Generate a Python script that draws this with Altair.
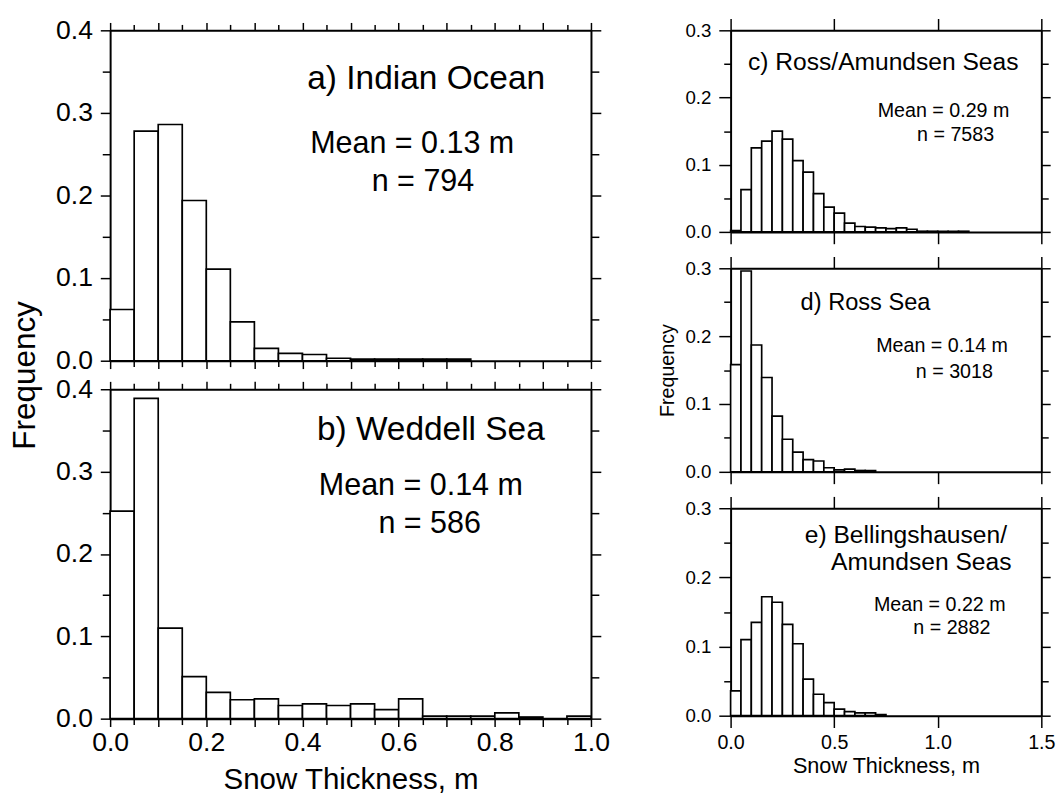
import altair as alt
import pandas as pd

FONT = "Liberation Sans"
BIN_W = 0.05

# Relative frequency per 0.05 m snow-thickness bin, first bin starting at 0 m
indian_ocean = [0.062, 0.278, 0.286, 0.194, 0.111, 0.047, 0.015, 0.009, 0.0075,
                0.003, 0.002, 0.002, 0.002, 0.002, 0.002]
weddell_sea = [0.252, 0.389, 0.110, 0.051, 0.032, 0.023, 0.024, 0.016, 0.018, 0.016,
               0.018, 0.011, 0.024, 0.003, 0.003, 0.003, 0.007, 0.002, 0.0, 0.003]
ross_amundsen = [0.002, 0.063, 0.125, 0.135, 0.150, 0.138, 0.106, 0.089, 0.057, 0.037,
                 0.028, 0.013, 0.008, 0.007, 0.006, 0.005, 0.006, 0.004,
                 0.001, 0.001, 0.001, 0.001, 0.001]
ross_sea = [0.158, 0.296, 0.187, 0.139, 0.082, 0.048, 0.029, 0.018, 0.016, 0.006,
            0.003, 0.004, 0.002, 0.002]
bellingshausen = [0.036, 0.110, 0.135, 0.172, 0.164, 0.132, 0.104, 0.053, 0.031, 0.019,
                  0.0095, 0.006, 0.004, 0.004, 0.0015]

# Panel annotations: (x, y, text, font size) in data coordinates
notes_a = [(0.41, 0.329, "a) Indian Ocean", 34), (0.416, 0.251, "Mean = 0.13 m", 31),
           (0.544, 0.205, "n = 794", 31)]
notes_b = [(0.43, 0.338, "b) Weddell Sea", 34), (0.434, 0.271, "Mean = 0.14 m", 31),
           (0.558, 0.226, "n = 586", 31)]
notes_c = [(0.084, 0.2415, "c) Ross/Amundsen Seas", 25), (0.71, 0.171, "Mean = 0.29 m", 20),
           (0.90, 0.135, "n = 7583", 20)]
notes_d = [(0.338, 0.239, "d) Ross Sea", 24), (0.703, 0.176, "Mean = 0.14 m", 20),
           (0.894, 0.139, "n = 3018", 20)]
notes_e = [(0.358, 0.249, "e) Bellingshausen/", 25), (0.485, 0.211, "Amundsen Seas", 25),
           (0.692, 0.151, "Mean = 0.22 m", 20), (0.882, 0.118, "n = 2882", 20)]

X_TITLE = "Snow Thickness, m"
Y_TITLE = "Frequency"

left_x_ticks = [round(i * 0.05, 2) for i in range(21)]
left_y_ticks = [round(i * 0.05, 2) for i in range(9)]
right_x_ticks = [0.0, 0.5, 1.0, 1.5]
right_y_ticks = [round(i * 0.05, 2) for i in range(7)]

EVEN_TENTH = "round(datum.value * 20) % 2 == 0"
FIFTH = "round(datum.value * 20) % 4 == 0"
TENTH_LABEL = f"{EVEN_TENTH} ? format(datum.value, '.1f') : ''"
FIFTH_LABEL = f"{FIFTH} ? format(datum.value, '.1f') : ''"


def tick_len(test, major, minor):
    return {"condition": {"test": test, "value": major}, "value": minor}


def axis(orient, values, labels=False, label_expr=None, label_size=27, tick_size=8,
         label_pad=3, title=None, title_size=30, title_pad=None, title_y=None, fmt=".1f"):
    kw = dict(orient=orient, values=values, labels=labels, grid=False,
              domainColor="black", domainWidth=2, tickColor="black", tickWidth=1.5,
              tickSize=tick_size, labelFont=FONT, labelFontSize=label_size,
              labelColor="black", labelFlush=False, labelOverlap=False,
              labelPadding=label_pad, format=fmt, title=title)
    if label_expr is not None:
        kw["labelExpr"] = label_expr
    if title is not None:
        kw.update(titleFont=FONT, titleFontSize=title_size, titleFontWeight="normal",
                  titleColor="black")
        if title_pad is not None:
            kw["titlePadding"] = title_pad
        if title_y is not None:
            kw["titleY"] = title_y
    return alt.Axis(**kw)


def panel(values, notes, xdom, ydom, w, h, ax_bottom, ax_left, ax_top, ax_right):
    lo = [round(i * BIN_W, 2) for i in range(len(values))]
    bins = pd.DataFrame({"lo": lo, "hi": [round(v + BIN_W, 2) for v in lo],
                         "f": values, "base": [0.0] * len(values)})
    xs = alt.Scale(domain=xdom, nice=False, zero=False)
    ys = alt.Scale(domain=ydom, nice=False)
    bars = alt.Chart(bins).mark_rect(fill="white", stroke="black", strokeWidth=1.7).encode(
        x=alt.X("lo:Q", scale=xs, axis=ax_bottom),
        x2="hi:Q",
        y=alt.Y("f:Q", scale=ys, axis=ax_left),
        y2="base:Q",
    )
    # invisible copy of the bars that carries the mirrored top/right axes
    mirror = alt.Chart(bins).mark_rect(opacity=0).encode(
        x=alt.X("lo:Q", scale=xs, axis=ax_top),
        x2="hi:Q",
        y=alt.Y("f:Q", scale=ys, axis=ax_right),
        y2="base:Q",
    )
    ndf = pd.DataFrame(notes, columns=["tx", "ty", "label", "fs"])
    text = alt.Chart(ndf).mark_text(align="left", baseline="alphabetic", font=FONT,
                                    color="black").encode(
        x=alt.X("tx:Q", scale=xs, axis=None),
        y=alt.Y("ty:Q", scale=ys, axis=None),
        text="label:N",
        size=alt.Size("fs:Q", scale=None, legend=None),
    )
    return alt.layer(bars, mirror, text).resolve_axis(
        x="independent", y="independent").properties(width=w, height=h)


LW = 489
AH, BH = 336, 335
RW = 316
CH, DH, EH = 205, 207, 211

left_y = lambda **k: axis("left", left_y_ticks, labels=True, label_size=27,
                          label_expr=TENTH_LABEL, label_pad=8,
                          tick_size=tick_len(EVEN_TENTH, 10, 8), **k)
left_right = axis("right", left_y_ticks, tick_size=tick_len(EVEN_TENTH, 10, 8))
left_top = axis("top", left_x_ticks, tick_size=tick_len(EVEN_TENTH, 8, 6))

pa = panel(indian_ocean, notes_a, [0, 1], [0, 0.4], LW, AH,
           axis("bottom", left_x_ticks, tick_size=tick_len(EVEN_TENTH, 8, 6)),
           left_y(title=Y_TITLE, title_size=32, title_pad=14, title_y=AH + 14.5),
           left_top, left_right)
pb = panel(weddell_sea, notes_b, [0, 1], [0, 0.4], LW, BH,
           axis("bottom", left_x_ticks, labels=True, label_size=27,
                label_expr=FIFTH_LABEL, label_pad=3,
                tick_size=tick_len(EVEN_TENTH, 8, 6),
                title=X_TITLE, title_size=30, title_pad=10),
           left_y(), left_top, left_right)

right_y = lambda **k: axis("left", right_y_ticks, labels=True, label_size=19,
                           label_expr=TENTH_LABEL, label_pad=8,
                           tick_size=tick_len(EVEN_TENTH, 12, 7), **k)
right_right = axis("right", right_y_ticks, tick_size=tick_len(EVEN_TENTH, 9, 7))
right_top = axis("top", right_x_ticks, tick_size=12)
right_bottom_plain = axis("bottom", right_x_ticks, tick_size=12)

pc = panel(ross_amundsen, notes_c, [0, 1.5], [0, 0.3], RW, CH,
           right_bottom_plain, right_y(), right_top, right_right)
pd_ = panel(ross_sea, notes_d, [0, 1.5], [0, 0.3], RW, DH,
            right_bottom_plain, right_y(title=Y_TITLE, title_size=20, title_pad=8),
            right_top, right_right)
pe = panel(bellingshausen, notes_e, [0, 1.5], [0, 0.3], RW, EH,
           axis("bottom", right_x_ticks, labels=True, label_size=20, tick_size=12,
                label_pad=5, title=X_TITLE, title_size=22, title_pad=4),
           right_y(), right_top, right_right)

left = alt.vconcat(pa, pb, spacing=29, bounds="flush")
right = alt.vconcat(pc, pd_, pe, spacing=37, bounds="flush")

chart = alt.hconcat(left, right, spacing=47).properties(
    padding={"left": 8, "top": 9, "right": 5, "bottom": 5}
).configure_view(stroke="black", strokeWidth=2).configure(background="white")

chart.save("out.html", embed_options={"renderer": "svg", "actions": False})
